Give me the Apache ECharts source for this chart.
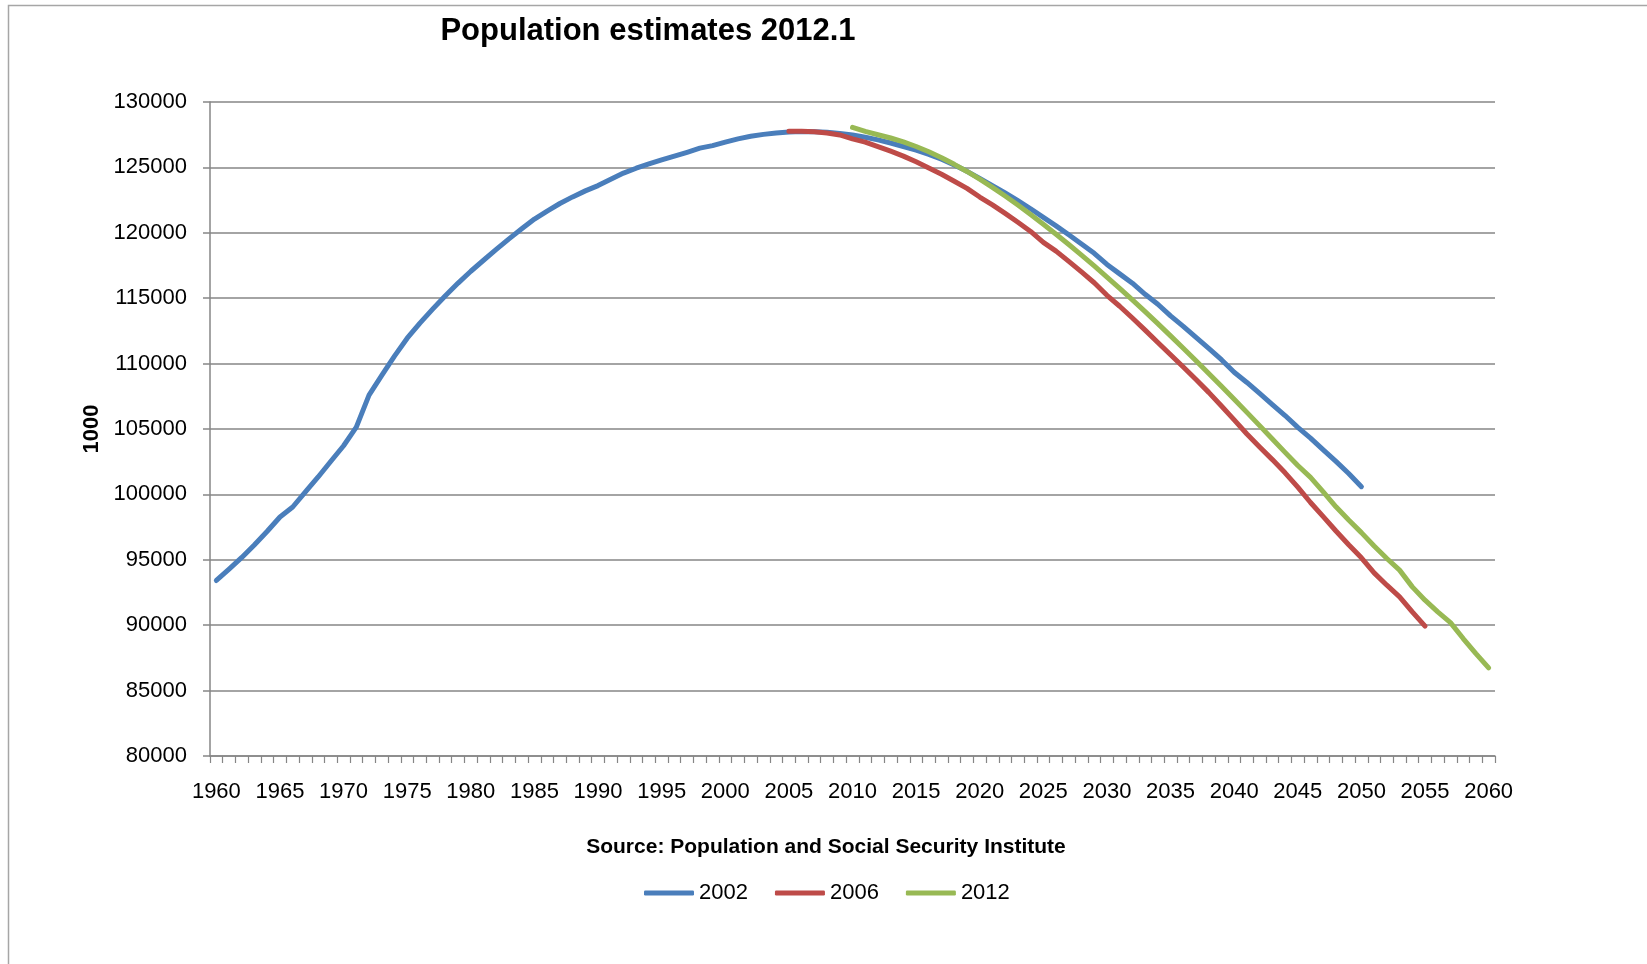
<!DOCTYPE html>
<html>
<head>
<meta charset="utf-8">
<script src="https://cdn.jsdelivr.net/npm/echarts@6/dist/echarts.min.js"></script>
<style>
html,body{margin:0;padding:0;background:#fff;}
#chart{width:1647px;height:964px;}
</style>
</head>
<body>
<div id="chart"></div>
<script>
var years = [1960,1961,1962,1963,1964,1965,1966,1967,1968,1969,
1970,1971,1972,1973,1974,1975,1976,1977,1978,1979,
1980,1981,1982,1983,1984,1985,1986,1987,1988,1989,
1990,1991,1992,1993,1994,1995,1996,1997,1998,1999,
2000,2001,2002,2003,2004,2005,2006,2007,2008,2009,
2010,2011,2012,2013,2014,2015,2016,2017,2018,2019,
2020,2021,2022,2023,2024,2025,2026,2027,2028,2029,
2030,2031,2032,2033,2034,2035,2036,2037,2038,2039,
2040,2041,2042,2043,2044,2045,2046,2047,2048,2049,
2050,2051,2052,2053,2054,2055,2056,2057,2058,2059,2060];

var seriesNames = ['2002','2006','2012'];

// 2002 estimate, from 1960 to 2050
var start2002 = 1960;
var values2002 = [93419,94287,95181,96156,97182,98275,99036,100196,101331,102536,
103720,105145,107595,109104,110573,111940,113094,114165,115190,116155,
117060,117902,118728,119536,120305,121049,121660,122239,122745,123205,
123611,124101,124567,124938,125265,125570,125859,126157,126472,126667,
126926,127183,127377,127524,127635,127708,127741,127733,127686,127599,
127473,127309,127107,126865,126600,126320,126000,125620,125180,124700,
124150,123609,123047,122456,121838,121180,120531,119848,119146,118428,
117580,116860,116147,115300,114537,113650,112850,112000,111160,110300,
109338,108560,107720,106870,106030,105120,104300,103400,102520,101600,
100593];

// 2006 estimate, from 2005 to 2055
var start2006 = 2005;
var values2006 = [127768,127762,127727,127623,127481,127176,126932,126591,126237,125862,
125430,124961,124475,123946,123397,122735,122130,121482,120805,120102,
119270,118598,117817,117011,116182,115224,114385,113484,112560,111617,
110679,109740,108790,107800,106760,105695,104620,103620,102660,101650,
100550,99380,98300,97200,96150,95152,94000,93060,92170,91020,
89930];

// 2012 estimate, from 2010 to 2060
var start2012 = 2010;
var values2012 = [128057,127753,127498,127247,126949,126597,126193,125739,125236,124689,
124100,123474,122813,122122,121403,120659,119891,119102,118293,117465,
116618,115752,114870,113970,113054,112124,111179,110221,109251,108270,
107276,106271,105257,104236,103211,102210,101300,100200,99050,98040,
97076,96050,95100,94210,92930,91910,91020,90200,88980,87830,
86737];

var yTicks = {min: 80000, max: 130000, step: 5000};

var titleText = 'Population estimates 2012.1';
var sourceText = 'Source: Population and Social Security Institute';
var yName = '1000';

function align(start, vals) {
  var out = [];
  for (var i = 0; i < years.length; i++) {
    var k = years[i] - start;
    out.push(k >= 0 && k < vals.length ? vals[k] : null);
  }
  return out;
}

var colors = ['#4a7ebb', '#be4b48', '#98b954'];
var FONT = 'Liberation Sans';
var gridColor = '#868686';

function lineSeries(name, data, color) {
  return {
    name: name,
    type: 'line',
    data: data,
    symbol: 'none',
    connectNulls: false,
    color: color,
    lineStyle: {width: 5, color: color, cap: 'round', join: 'round'},
    animation: false
  };
}

var chart = echarts.init(document.getElementById('chart'), null, {renderer: 'canvas'});
chart.setOption({
  backgroundColor: '#ffffff',
  animation: false,
  textStyle: {fontFamily: FONT},
  grid: {left: 210, top: 102, width: 1285, height: 654, containLabel: false},
  legend: {
    data: seriesNames,
    left: 639,
    top: 877,
    icon: 'roundRect',
    itemWidth: 50,
    itemHeight: 5,
    itemGap: 27,
    textStyle: {fontFamily: FONT, fontSize: 22, color: '#000'}
  },
  xAxis: {
    type: 'category',
    data: years,
    boundaryGap: true,
    axisLine: {show: true, lineStyle: {color: gridColor, width: 1.5}},
    axisTick: {show: true, interval: 0, length: 7, lineStyle: {color: gridColor, width: 1.2}},
    axisLabel: {interval: 4, margin: 25, fontSize: 22, color: '#000', fontFamily: FONT},
    splitLine: {show: false}
  },
  yAxis: {
    type: 'value',
    min: yTicks.min,
    max: yTicks.max,
    interval: yTicks.step,
    name: yName,
    nameLocation: 'middle',
    nameRotate: 90,
    nameGap: 106,
    nameTextStyle: {fontFamily: FONT, fontSize: 22, fontWeight: 'bold', color: '#000'},
    axisLine: {show: true, lineStyle: {color: gridColor, width: 1.5}},
    axisTick: {show: true, length: 7, lineStyle: {color: gridColor, width: 1.5}},
    axisLabel: {margin: 23, fontSize: 22, color: '#000', fontFamily: FONT,
      formatter: function (v) { return String(v); }},
    splitLine: {show: true, lineStyle: {color: gridColor, width: 1.5}}
  },
  series: [
    lineSeries(seriesNames[0], align(start2002, values2002), colors[0]),
    lineSeries(seriesNames[1], align(start2006, values2006), colors[1]),
    lineSeries(seriesNames[2], align(start2012, values2012), colors[2])
  ],
  graphic: [
    {
      type: 'text', x: 648, y: 31, silent: true,
      style: {text: titleText, x: 0, y: 0, align: 'center', verticalAlign: 'middle',
        font: 'bold 31px "Liberation Sans"', fill: '#000'}
    },
    {
      type: 'text', x: 826, y: 847, silent: true,
      style: {text: sourceText, x: 0, y: 0, align: 'center', verticalAlign: 'middle',
        font: 'bold 21px "Liberation Sans"', fill: '#000'}
    },
    {
      type: 'polyline', silent: true,
      shape: {points: [[8.5, 964], [8.5, 5.5], [1647, 5.5]]},
      style: {stroke: '#a6a6a6', lineWidth: 1.5, fill: null}
    }
  ]
});
</script>
</body>
</html>
